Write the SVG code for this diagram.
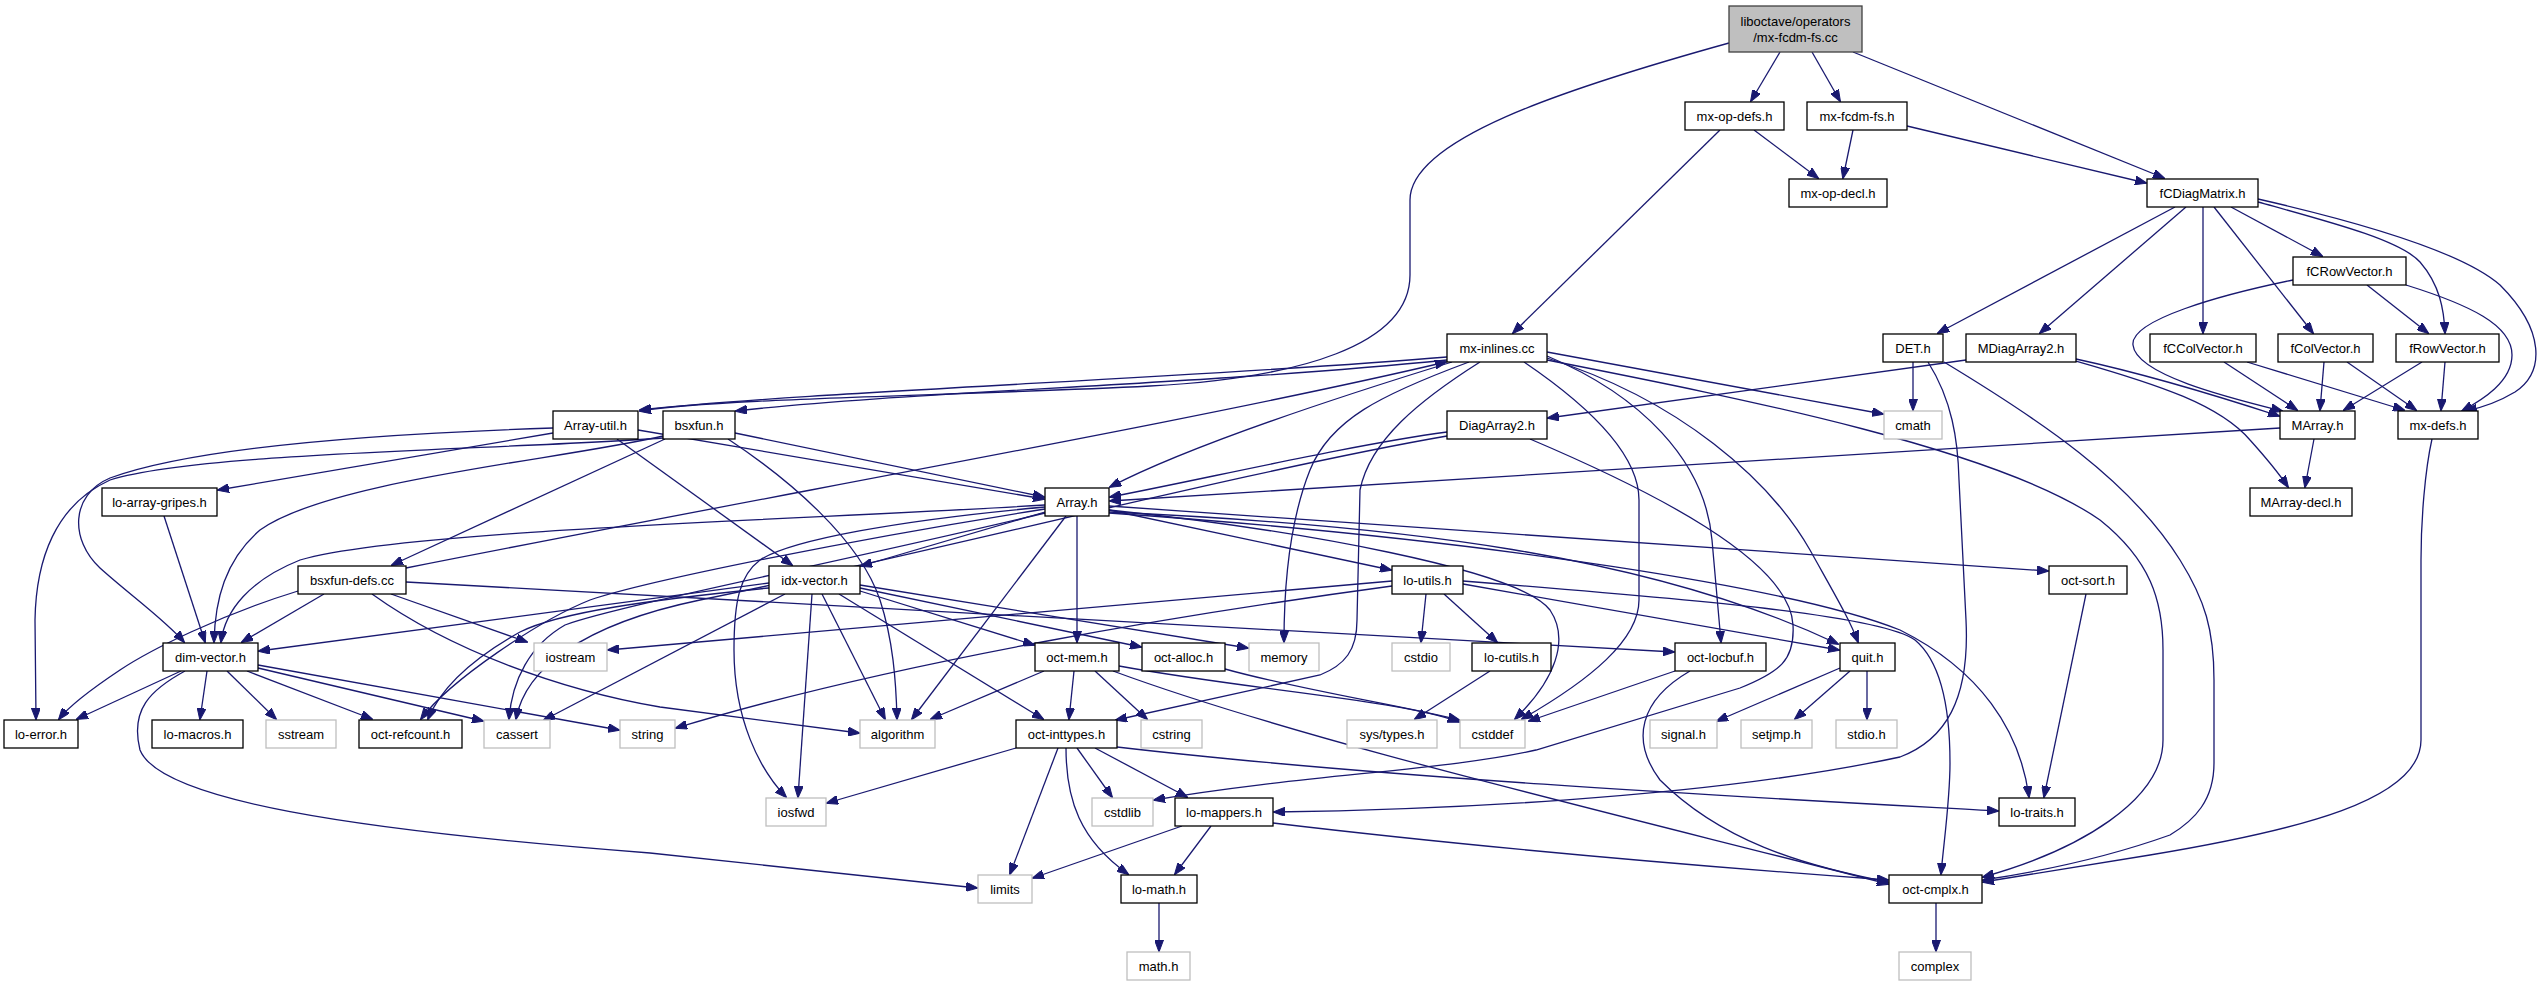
<svg xmlns="http://www.w3.org/2000/svg" width="2539" height="987" viewBox="0 0 2539 987">
<defs>
<style>
.n rect{fill:#fff;stroke:#000;stroke-width:1.3}
.g rect{fill:#fff;stroke:#bfbfbf;stroke-width:1.3}
.r rect{fill:#bfbfbf;stroke:#404040;stroke-width:1.3}
text{font-family:"Liberation Sans",Arial,sans-serif;font-size:13px;text-anchor:middle;fill:#000}
#edges path{fill:none;stroke:#191970;stroke-width:1.3;marker-end:url(#a)}
</style>
<marker id="a" markerWidth="12" markerHeight="9" refX="11" refY="4.5" orient="auto" markerUnits="userSpaceOnUse"><path d="M0,0 L12,4.5 L0,9 z" fill="#191970" stroke="#191970" stroke-width="1"/></marker>
</defs>
<rect width="2539" height="987" fill="#fff"/>
<g id="edges">
<path d="M1780,52 L1751,101"/>
<path d="M1812,52 L1840,101"/>
<path d="M1853,52 L2164,178"/>
<path d="M1729,43 C1560,90 1410,140 1410,200 L1410,275 C1410,345 1300,378 1150,386 C950,396 720,398 640,411"/>
<path d="M1754,130 L1818,178"/>
<path d="M1720,130 L1513,333"/>
<path d="M1853,130 L1843,178"/>
<path d="M1907,126 L2146,183"/>
<path d="M2175,207 L1938,333"/>
<path d="M2186,207 L2040,333"/>
<path d="M2203,207 L2203,333"/>
<path d="M2214,207 L2313,333"/>
<path d="M2231,207 L2322,256"/>
<path d="M2258,202 C2330,222 2400,240 2420,262 C2440,285 2444,310 2445,333"/>
<path d="M2258,199 C2350,220 2460,250 2500,285 C2545,330 2545,372 2515,392 C2495,404 2480,408 2466,411"/>
<path d="M2293,280 C2220,295 2130,320 2133,345 C2136,375 2230,398 2282,411"/>
<path d="M2367,285 L2428,333"/>
<path d="M2406,285 C2470,305 2512,325 2512,355 C2512,382 2482,400 2462,411"/>
<path d="M2224,362 L2297,410"/>
<path d="M2247,362 L2404,410"/>
<path d="M2324,362 L2320,410"/>
<path d="M2347,362 L2416,410"/>
<path d="M2422,362 L2344,410"/>
<path d="M2445,362 L2441,410"/>
<path d="M2076,359 C2150,375 2230,400 2279,416"/>
<path d="M2076,361 C2160,385 2220,405 2250,440 C2268,460 2280,475 2288,487"/>
<path d="M1966,360 L1548,418"/>
<path d="M1913,362 L1913,410"/>
<path d="M1928,362 C1952,400 1958,440 1959,480 L1966,620 C1970,700 1945,740 1900,757 C1700,800 1420,810 1274,812"/>
<path d="M1944,362 C2040,420 2130,480 2180,560 C2205,600 2214,630 2214,680 L2214,763 C2214,800 2195,820 2170,835 C2100,860 2030,873 1983,880"/>
<path d="M1447,357 C1200,378 800,392 640,410"/>
<path d="M1447,360 C1200,385 900,392 736,411"/>
<path d="M1452,362 C1400,378 1200,440 1110,487"/>
<path d="M406,568 C800,490 1200,420 1446,362"/>
<path d="M1469,362 C1380,395 1330,420 1310,470 C1290,520 1284,580 1284,642"/>
<path d="M1480,362 C1420,400 1370,440 1360,490 L1357,620 C1357,650 1345,665 1320,675 L1116,720"/>
<path d="M1524,362 C1580,400 1639,450 1639,500 L1639,600 C1639,640 1590,680 1522,719"/>
<path d="M1547,352 L1883,414"/>
<path d="M1547,356 C1640,395 1705,460 1712,540 L1721,642"/>
<path d="M1547,358 C1680,400 1770,480 1810,550 C1835,595 1850,620 1858,642"/>
<path d="M1547,360 C1750,400 2000,450 2100,520 C2150,560 2163,600 2163,650 L2163,740 C2163,800 2080,850 1983,877"/>
<path d="M1447,432 C1350,445 1200,480 1110,497"/>
<path d="M1447,436 C1250,470 900,560 700,600 C580,625 525,670 516,719"/>
<path d="M1530,439 C1650,490 1790,560 1793,625 C1795,660 1780,672 1740,688 L1536,750 C1450,770 1300,775 1154,800"/>
<path d="M2280,428 L1110,501"/>
<path d="M2314,439 L2305,487"/>
<path d="M2432,439 C2425,470 2421,520 2421,560 L2421,740 C2421,800 2300,830 2150,855 C2080,866 2020,876 1983,882"/>
<path d="M553,433 L218,490"/>
<path d="M553,428 C400,433 200,445 110,478 C70,495 70,540 100,568 C130,595 165,620 184,642"/>
<path d="M617,439 L792,565"/>
<path d="M638,430 L1044,499"/>
<path d="M735,433 L1044,497"/>
<path d="M728,439 C790,480 860,540 880,600 C893,640 896,680 897,719"/>
<path d="M665,439 L392,565"/>
<path d="M663,436 C560,460 330,480 260,530 C225,560 215,600 214,642"/>
<path d="M663,438 C500,450 200,452 110,480 C55,505 36,560 35,620 L36,719"/>
<path d="M164,516 L205,642"/>
<path d="M1045,505 C800,520 400,530 300,560 C250,580 225,610 221,642"/>
<path d="M1045,512 L861,566"/>
<path d="M1077,516 L1077,642"/>
<path d="M1066,516 L912,719"/>
<path d="M1045,507 C900,520 790,540 760,560 C740,575 734,600 734,650 C734,720 760,770 786,797"/>
<path d="M1045,509 C850,540 650,580 590,600 C540,620 450,680 421,719"/>
<path d="M1045,513 C850,560 620,605 565,625 C530,645 512,680 509,719"/>
<path d="M1109,510 C1300,530 1520,570 1550,610 C1570,640 1555,680 1515,719"/>
<path d="M1109,510 L1391,570"/>
<path d="M1109,512 C1400,525 1650,555 1838,644"/>
<path d="M1109,506 L2048,571"/>
<path d="M1109,513 C1500,540 1800,590 1900,630 C1980,670 2020,730 2029,797"/>
<path d="M769,583 L259,651"/>
<path d="M785,594 L544,720"/>
<path d="M769,588 C650,600 560,612 520,632 C470,660 440,690 428,719"/>
<path d="M812,594 L798,797"/>
<path d="M822,594 L885,719"/>
<path d="M839,594 L1043,719"/>
<path d="M860,591 L1034,645"/>
<path d="M860,588 L1141,647"/>
<path d="M860,585 L1248,648"/>
<path d="M324,594 L242,642"/>
<path d="M298,591 C220,615 150,650 120,670 C90,690 70,705 59,719"/>
<path d="M391,594 L527,642"/>
<path d="M372,594 C450,650 560,690 660,707 L859,733"/>
<path d="M406,582 L1674,652"/>
<path d="M1392,581 L608,650"/>
<path d="M1392,586 C1200,612 900,660 676,728"/>
<path d="M1426,594 L1421,642"/>
<path d="M1444,594 L1497,642"/>
<path d="M1463,584 L1839,650"/>
<path d="M1463,581 C1700,600 1880,615 1915,640 C1945,665 1950,720 1950,763 C1950,800 1944,840 1941,874"/>
<path d="M1490,671 L1415,719"/>
<path d="M1840,668 L1717,721"/>
<path d="M1850,671 L1795,719"/>
<path d="M1867,671 L1867,719"/>
<path d="M1675,671 L1529,721"/>
<path d="M1690,671 C1640,700 1630,740 1660,780 C1720,840 1800,865 1888,882"/>
<path d="M2086,594 L2044,797"/>
<path d="M181,671 L77,719"/>
<path d="M207,671 L200,719"/>
<path d="M227,671 L276,719"/>
<path d="M247,671 L372,719"/>
<path d="M258,668 L483,721"/>
<path d="M258,665 L619,730"/>
<path d="M185,671 C150,690 130,710 140,750 C160,800 350,830 650,853 L977,888"/>
<path d="M1044,671 L931,719"/>
<path d="M1074,671 L1069,719"/>
<path d="M1095,671 L1147,719"/>
<path d="M1119,666 C1250,690 1400,700 1459,722"/>
<path d="M1113,671 C1300,740 1600,810 1888,884"/>
<path d="M1225,669 C1300,690 1400,705 1459,720"/>
<path d="M1016,748 L827,803"/>
<path d="M1058,748 L1010,874"/>
<path d="M1066,748 C1066,800 1080,840 1128,874"/>
<path d="M1077,748 L1112,797"/>
<path d="M1095,748 L1187,797"/>
<path d="M1117,747 C1400,780 1800,800 1998,811"/>
<path d="M1182,826 L1033,878"/>
<path d="M1211,826 L1175,874"/>
<path d="M1273,823 C1500,850 1750,870 1888,880"/>
<path d="M1159,903 L1159,951"/>
<path d="M1936,903 L1936,951"/>
</g>
<g id="root" class="r"><rect x="1729" y="6" width="133" height="46"/><text x="1795.5" y="25.5">liboctave/operators</text><text x="1795.5" y="41.5">/mx-fcdm-fs.cc</text></g>
<g id="mx-op-defs" class="n"><rect x="1685" y="102" width="99" height="28"/><text x="1734.5" y="120.5">mx-op-defs.h</text></g>
<g id="mx-fcdm-fs" class="n"><rect x="1807" y="102" width="100" height="28"/><text x="1857" y="120.5">mx-fcdm-fs.h</text></g>
<g id="mx-op-decl" class="n"><rect x="1789" y="179" width="98" height="28"/><text x="1838" y="197.5">mx-op-decl.h</text></g>
<g id="fCDiagMatrix" class="n"><rect x="2147" y="179" width="111" height="28"/><text x="2202.5" y="197.5">fCDiagMatrix.h</text></g>
<g id="fCRowVector" class="n"><rect x="2293" y="257" width="113" height="28"/><text x="2349.5" y="275.5">fCRowVector.h</text></g>
<g id="DET" class="n"><rect x="1883" y="334" width="60" height="28"/><text x="1913" y="352.5">DET.h</text></g>
<g id="MDiagArray2" class="n"><rect x="1966" y="334" width="110" height="28"/><text x="2021" y="352.5">MDiagArray2.h</text></g>
<g id="fCColVector" class="n"><rect x="2150" y="334" width="106" height="28"/><text x="2203" y="352.5">fCColVector.h</text></g>
<g id="fColVector" class="n"><rect x="2278" y="334" width="95" height="28"/><text x="2325.5" y="352.5">fColVector.h</text></g>
<g id="fRowVector" class="n"><rect x="2396" y="334" width="103" height="28"/><text x="2447.5" y="352.5">fRowVector.h</text></g>
<g id="mx-inlines" class="n"><rect x="1447" y="334" width="100" height="28"/><text x="1497" y="352.5">mx-inlines.cc</text></g>
<g id="Array-util" class="n"><rect x="553" y="411" width="85" height="28"/><text x="595.5" y="429.5">Array-util.h</text></g>
<g id="bsxfun" class="n"><rect x="663" y="411" width="72" height="28"/><text x="699" y="429.5">bsxfun.h</text></g>
<g id="DiagArray2" class="n"><rect x="1447" y="411" width="100" height="28"/><text x="1497" y="429.5">DiagArray2.h</text></g>
<g id="cmath" class="g"><rect x="1884" y="411" width="58" height="28"/><text x="1913" y="429.5">cmath</text></g>
<g id="MArray" class="n"><rect x="2280" y="411" width="75" height="28"/><text x="2317.5" y="429.5">MArray.h</text></g>
<g id="mx-defs" class="n"><rect x="2398" y="411" width="80" height="28"/><text x="2438" y="429.5">mx-defs.h</text></g>
<g id="lo-array-gripes" class="n"><rect x="102" y="488" width="115" height="28"/><text x="159.5" y="506.5">lo-array-gripes.h</text></g>
<g id="Array" class="n"><rect x="1045" y="488" width="64" height="28"/><text x="1077" y="506.5">Array.h</text></g>
<g id="MArray-decl" class="n"><rect x="2250" y="488" width="102" height="28"/><text x="2301" y="506.5">MArray-decl.h</text></g>
<g id="bsxfun-defs" class="n"><rect x="298" y="566" width="108" height="28"/><text x="352" y="584.5">bsxfun-defs.cc</text></g>
<g id="idx-vector" class="n"><rect x="769" y="566" width="91" height="28"/><text x="814.5" y="584.5">idx-vector.h</text></g>
<g id="lo-utils" class="n"><rect x="1392" y="566" width="71" height="28"/><text x="1427.5" y="584.5">lo-utils.h</text></g>
<g id="oct-sort" class="n"><rect x="2049" y="566" width="78" height="28"/><text x="2088" y="584.5">oct-sort.h</text></g>
<g id="dim-vector" class="n"><rect x="163" y="643" width="95" height="28"/><text x="210.5" y="661.5">dim-vector.h</text></g>
<g id="iostream" class="g"><rect x="534" y="643" width="73" height="28"/><text x="570.5" y="661.5">iostream</text></g>
<g id="oct-mem" class="n"><rect x="1035" y="643" width="84" height="28"/><text x="1077" y="661.5">oct-mem.h</text></g>
<g id="oct-alloc" class="n"><rect x="1142" y="643" width="83" height="28"/><text x="1183.5" y="661.5">oct-alloc.h</text></g>
<g id="memory" class="g"><rect x="1249" y="643" width="70" height="28"/><text x="1284" y="661.5">memory</text></g>
<g id="cstdio" class="g"><rect x="1392" y="643" width="58" height="28"/><text x="1421" y="661.5">cstdio</text></g>
<g id="lo-cutils" class="n"><rect x="1472" y="643" width="79" height="28"/><text x="1511.5" y="661.5">lo-cutils.h</text></g>
<g id="oct-locbuf" class="n"><rect x="1675" y="643" width="91" height="28"/><text x="1720.5" y="661.5">oct-locbuf.h</text></g>
<g id="quit" class="n"><rect x="1840" y="643" width="55" height="28"/><text x="1867.5" y="661.5">quit.h</text></g>
<g id="lo-error" class="n"><rect x="4" y="720" width="74" height="28"/><text x="41" y="738.5">lo-error.h</text></g>
<g id="lo-macros" class="n"><rect x="152" y="720" width="91" height="28"/><text x="197.5" y="738.5">lo-macros.h</text></g>
<g id="sstream" class="g"><rect x="266" y="720" width="70" height="28"/><text x="301" y="738.5">sstream</text></g>
<g id="oct-refcount" class="n"><rect x="359" y="720" width="103" height="28"/><text x="410.5" y="738.5">oct-refcount.h</text></g>
<g id="cassert" class="g"><rect x="484" y="720" width="66" height="28"/><text x="517" y="738.5">cassert</text></g>
<g id="string" class="g"><rect x="620" y="720" width="55" height="28"/><text x="647.5" y="738.5">string</text></g>
<g id="algorithm" class="g"><rect x="860" y="720" width="75" height="28"/><text x="897.5" y="738.5">algorithm</text></g>
<g id="oct-inttypes" class="n"><rect x="1016" y="720" width="101" height="28"/><text x="1066.5" y="738.5">oct-inttypes.h</text></g>
<g id="cstring" class="g"><rect x="1141" y="720" width="61" height="28"/><text x="1171.5" y="738.5">cstring</text></g>
<g id="sys-types" class="g"><rect x="1347" y="720" width="90" height="28"/><text x="1392" y="738.5">sys/types.h</text></g>
<g id="cstddef" class="g"><rect x="1460" y="720" width="65" height="28"/><text x="1492.5" y="738.5">cstddef</text></g>
<g id="signal" class="g"><rect x="1650" y="720" width="67" height="28"/><text x="1683.5" y="738.5">signal.h</text></g>
<g id="setjmp" class="g"><rect x="1741" y="720" width="71" height="28"/><text x="1776.5" y="738.5">setjmp.h</text></g>
<g id="stdio" class="g"><rect x="1836" y="720" width="61" height="28"/><text x="1866.5" y="738.5">stdio.h</text></g>
<g id="iosfwd" class="g"><rect x="766" y="798" width="60" height="28"/><text x="796" y="816.5">iosfwd</text></g>
<g id="cstdlib" class="g"><rect x="1092" y="798" width="61" height="28"/><text x="1122.5" y="816.5">cstdlib</text></g>
<g id="lo-mappers" class="n"><rect x="1175" y="798" width="98" height="28"/><text x="1224" y="816.5">lo-mappers.h</text></g>
<g id="lo-traits" class="n"><rect x="1999" y="798" width="76" height="28"/><text x="2037" y="816.5">lo-traits.h</text></g>
<g id="limits" class="g"><rect x="978" y="875" width="54" height="28"/><text x="1005" y="893.5">limits</text></g>
<g id="lo-math" class="n"><rect x="1121" y="875" width="76" height="28"/><text x="1159" y="893.5">lo-math.h</text></g>
<g id="oct-cmplx" class="n"><rect x="1889" y="875" width="93" height="28"/><text x="1935.5" y="893.5">oct-cmplx.h</text></g>
<g id="math" class="g"><rect x="1127" y="952" width="63" height="28"/><text x="1158.5" y="970.5">math.h</text></g>
<g id="complex" class="g"><rect x="1899" y="952" width="72" height="28"/><text x="1935" y="970.5">complex</text></g>
</svg>
